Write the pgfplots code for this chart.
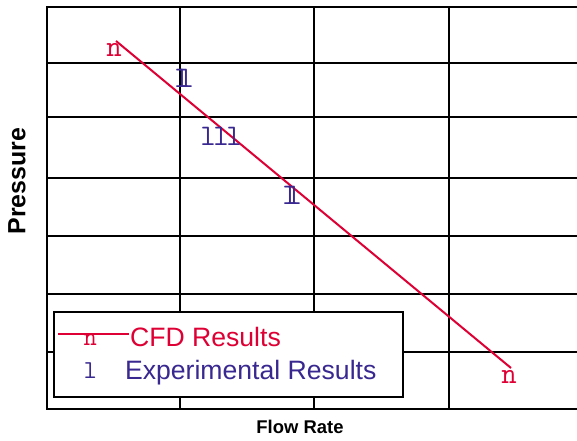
\documentclass[border=0pt]{standalone}
\usepackage{pgfplots}
\pgfplotsset{compat=1.18}
\usepackage{fontspec}
\setmainfont{Liberation Sans}
\definecolor{cfd}{RGB}{222,0,52}
\definecolor{expc}{RGB}{58,40,145}
\pgfplotsset{
  legmark/.style={text mark style={font=\ttfamily\fontsize{26}{26}\selectfont, inner sep=0pt, anchor=center}},
  cfdleg/.style={legend image code/.code={\path (0bp,0bp) (71bp,0bp); \draw[##1] (0bp,4bp) -- (71bp,4bp); \draw[##1,/pgfplots/legmark,overlay] plot coordinates {(34bp,6bp)};}},
  expleg/.style={legend image code/.code={\path (0bp,0bp) (71bp,0bp); \draw[##1,/pgfplots/legmark,overlay] plot coordinates {(34bp,9bp)};}},
}
\begin{document}
\begin{tikzpicture}
\path[use as bounding box] (-47bp,-32bp) rectangle (530bp,409bp);
\begin{axis}[
  at={(0bp,0bp)}, anchor=south west,
  scale only axis, width=536bp, height=402bp,
  xmin=47, xmax=583, ymin=0, ymax=402,
  xtick={180,314,449}, ytick={57,115,173,231,292,346},
  xticklabels={}, yticklabels={},
  major tick length=0pt,
  grid=major, grid style={black, line width=2.4bp},
  axis line style={black, line width=2.4bp},
  legend style={at={(rel axis cs:0.0112,0.2438)}, anchor=north west,
    draw=black, line width=2.4bp, fill=white,
    font=\fontsize{26.7}{30}\selectfont,
    inner xsep=3bp, inner ysep=14bp,
    nodes={inner sep=1.5bp},
    column sep=-2bp, row sep=9bp},
  legend cell align=left,
]
\addplot[color=cfd, line width=2bp, mark=text, text mark={n},
  text mark as node=true,
  text mark style={font=\ttfamily\fontsize{30}{30}\selectfont, inner sep=0pt, anchor=center},
  mark options={xshift=-2bp, yshift=-9bp},
  cfdleg
] coordinates {(116,368) (511,41)};
\addlegendentry[text=cfd]{CFD Results}
\addplot[color=expc, only marks, mark=text, text mark={l},
  text mark as node=true,
  text mark style={font=\ttfamily\fontsize{30}{30}\selectfont, inner sep=0pt, anchor=center},
  mark options={xshift=-2bp, yshift=-9bp},
  expleg
] coordinates {(184,340) (188,340) (210,281.5) (223,281.5) (236,281.5) (292,223) (296,223)};
\addlegendentry[text=expc]{\hspace*{-5bp}Experimental Results\hspace*{22bp}}
\end{axis}
\node[font=\bfseries\fontsize{18.5}{18.5}\selectfont] at (253bp,-18bp) {Flow Rate};
\node[rotate=90, font=\bfseries\fontsize{25}{25}\selectfont] at (-30bp,228bp) {Pressure};
\end{tikzpicture}
\end{document}
